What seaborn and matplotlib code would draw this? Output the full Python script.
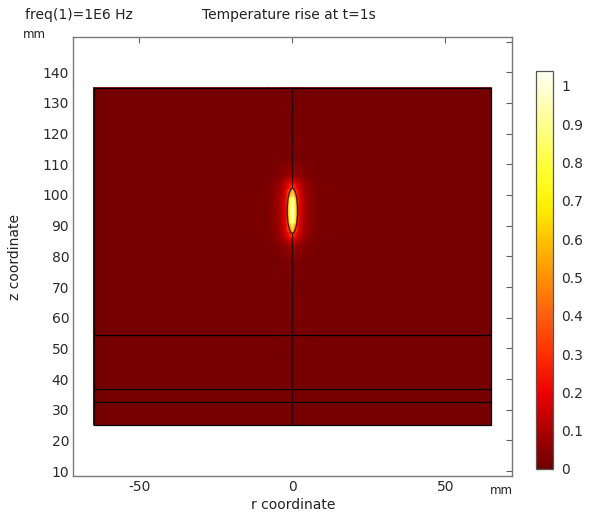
import numpy as np
import matplotlib
matplotlib.use("Agg")
import matplotlib.pyplot as plt
import seaborn as sns
from matplotlib.colors import LinearSegmentedColormap
from matplotlib.patches import Ellipse, Rectangle

# ---- data: temperature rise (K) on the half-plane r >= 0 ----
r_half = [0.0, 0.8, 1.4, 1.8, 2.4, 3.5, 5.0, 8.0, 65.0]          # mm
z_nodes = [25, 79, 84, 86, 88, 91, 95, 99, 102, 104, 106, 111, 135]  # mm
temp_half = [
    [0.015, 0.015, 0.015, 0.015, 0.015, 0.015, 0.015, 0.015, 0.015],
    [0.025, 0.025, 0.024, 0.023, 0.021, 0.019, 0.017, 0.015, 0.015],
    [0.10, 0.09, 0.08, 0.07, 0.06, 0.045, 0.032, 0.018, 0.015],
    [0.22, 0.20, 0.17, 0.15, 0.12, 0.085, 0.05, 0.020, 0.015],
    [0.62, 0.30, 0.24, 0.20, 0.16, 0.10, 0.06, 0.021, 0.015],
    [0.95, 0.76, 0.50, 0.26, 0.18, 0.11, 0.065, 0.022, 0.015],
    [1.03, 0.83, 0.60, 0.28, 0.19, 0.115, 0.068, 0.022, 0.015],
    [0.95, 0.76, 0.50, 0.26, 0.18, 0.11, 0.065, 0.022, 0.015],
    [0.55, 0.29, 0.23, 0.19, 0.15, 0.095, 0.058, 0.021, 0.015],
    [0.22, 0.20, 0.17, 0.15, 0.12, 0.085, 0.05, 0.020, 0.015],
    [0.10, 0.09, 0.08, 0.07, 0.06, 0.045, 0.032, 0.018, 0.015],
    [0.025, 0.025, 0.024, 0.023, 0.021, 0.019, 0.017, 0.015, 0.015],
    [0.015, 0.015, 0.015, 0.015, 0.015, 0.015, 0.015, 0.015, 0.015],
]

# geometry of the model (mm)
domain_r = [-65.0, 65.0]
domain_z = [25.0, 135.0]
layer_z = [54.3, 36.6, 32.6]
inclusion_center = [0.0, 94.85]
inclusion_size = [3.4, 14.7]       # full width, full height

cbar_ticks = [0, 0.1, 0.2, 0.3, 0.4, 0.5, 0.6, 0.7, 0.8, 0.9, 1.0]
cbar_labels = ["0", "0.1", "0.2", "0.3", "0.4", "0.5", "0.6", "0.7", "0.8", "0.9", "1"]
x_ticks = [-50, 0, 50]
y_ticks = [10, 20, 30, 40, 50, 60, 70, 80, 90, 100, 110, 120, 130, 140, 150]
t_min, t_max = 0.0, 1.039

# ---- mirror the axisymmetric solution to r < 0 ----
r_arr = np.array(r_half)
T_arr = np.array(temp_half)
r_full = np.concatenate([-r_arr[:0:-1], r_arr])
T_full = np.hstack([T_arr[:, :0:-1], T_arr])
R, Z = np.meshgrid(r_full, np.array(z_nodes, dtype=float))

sns.set_theme(style="white")
plt.rcParams["font.family"] = ["DejaVu Sans"]
plt.rcParams["axes.unicode_minus"] = False

heat = LinearSegmentedColormap.from_list(
    "heat_light",
    [(0.00, "#6e0000"), (0.10, "#b00000"), (0.19, "#ee0000"),
     (0.29, "#ff3000"), (0.39, "#ff6010"), (0.48, "#ff9000"),
     (0.58, "#ffc400"), (0.66, "#fff000"), (0.75, "#ffff30"),
     (0.86, "#ffff88"), (1.00, "#fffff4")])

fig = plt.figure(figsize=(5.98, 5.16), dpi=100)
ax = fig.add_axes([0.1226, 0.0775, 0.7328, 0.8508])

mesh = ax.pcolormesh(R, Z, T_full, shading="gouraud", cmap=heat,
                     vmin=t_min, vmax=t_max, rasterized=True)

# domain boundaries
line_kw = dict(colors="black", lw=0.9)
ax.add_patch(Rectangle((domain_r[0], domain_z[0]), domain_r[1] - domain_r[0],
                       domain_z[1] - domain_z[0], fill=False, ec="black", lw=0.9))
ax.hlines(layer_z, domain_r[0], domain_r[1], **line_kw)
z_tip_lo = inclusion_center[1] - inclusion_size[1] / 2
z_tip_hi = inclusion_center[1] + inclusion_size[1] / 2
ax.vlines(0, domain_z[0], z_tip_lo, **line_kw)
ax.vlines(0, z_tip_hi, domain_z[1], **line_kw)
ax.add_patch(Ellipse(inclusion_center, inclusion_size[0], inclusion_size[1],
                     fill=False, ec="#2a0000", lw=1.0, alpha=0.8))

ax.set_xlim(-71.6, 71.6)
ax.set_ylim(8.4, 151.5)
ax.set_xticks(x_ticks)
ax.set_yticks(y_ticks)
ax.set_yticklabels([str(v) if v < 150 else "" for v in y_ticks])
ax.tick_params(direction="in", top=True, right=True, length=4, width=0.8,
               color="#606060", labelsize=10, labelcolor="#2a2a2a", pad=3)
for s in ax.spines.values():
    s.set_color("#7a7a7a")
    s.set_linewidth(1.0)
ax.set_xlabel("")
ax.set_ylabel("")

# colour legend
cax = fig.add_axes([0.8963, 0.0911, 0.0284, 0.7713])
cb = fig.colorbar(mesh, cax=cax, ticks=cbar_ticks)
cb.ax.set_yticklabels(cbar_labels)
cb.outline.set_edgecolor("#555555")
cb.outline.set_linewidth(0.9)
cax.tick_params(direction="in", left=True, right=True, length=3, width=0.8,
                color="#404040", labelsize=10, labelcolor="#2a2a2a", pad=6)

# annotations
tc = "#222222"
fig.text(25 / 598, 1 - 15 / 516, "freq(1)=1E6 Hz", ha="left", va="center",
         fontsize=10, color=tc)
fig.text(289 / 598, 1 - 15 / 516, "Temperature rise at t=1s", ha="center",
         va="center", fontsize=10, color=tc)
fig.text(23 / 598, 1 - 34 / 516, "mm", ha="left", va="center", fontsize=8.5,
         color=tc)
fig.text(490 / 598, 1 - 490 / 516, "mm", ha="left", va="center", fontsize=8.5,
         color=tc)
fig.text(15 / 598, 1 - 257 / 516, "z coordinate", ha="center", va="center",
         rotation=90, fontsize=10, color=tc)
fig.text(293 / 598, 1 - 505 / 516, "r coordinate", ha="center", va="center",
         fontsize=10, color=tc)

fig.savefig("out.png", dpi=100)
